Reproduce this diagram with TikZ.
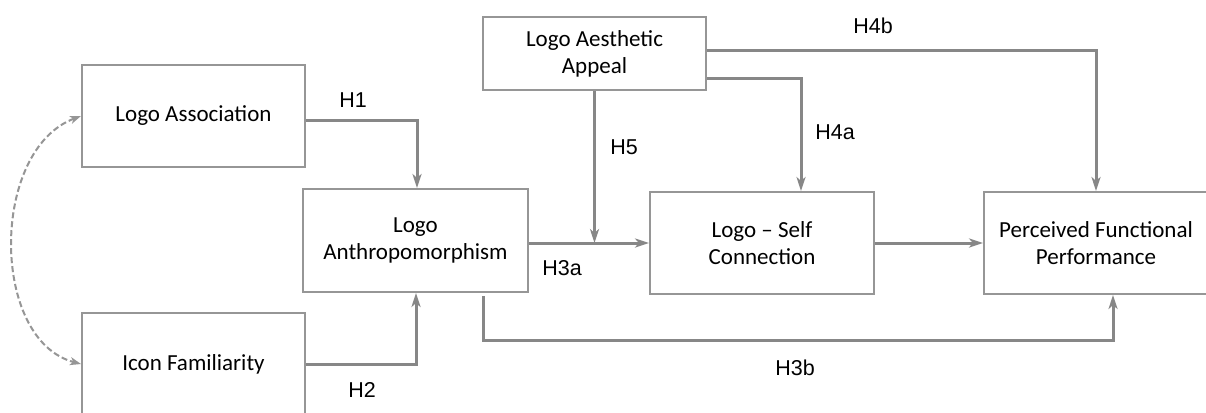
\documentclass[tikz,border=0pt]{standalone}
\usepackage{fontspec}
\newfontfamily\boxfont[Ligatures=TeX]{Carlito}
\newfontfamily\labfont{Liberation Sans}
\usetikzlibrary{arrows.meta,calc}
\definecolor{boxgray}{RGB}{150,150,150}
\definecolor{linegray}{RGB}{135,135,135}
\definecolor{dashgray}{RGB}{150,150,150}
\begin{document}
\begin{tikzpicture}[x=1pt,y=-1pt,
  varbox/.style={draw=boxgray,line width=2pt,rectangle,align=center,inner sep=0pt,
    font=\boxfont\fontsize{23}{27}\selectfont,text=black},
  arr/.style={draw=linegray,line width=3pt,-{Stealth[length=14pt,width=9pt,inset=4pt]}},
  dasharr/.style={draw=dashgray,line width=2pt,dash pattern=on 6pt off 3pt,
    {Stealth[length=11pt,width=8pt,inset=3pt]}-{Stealth[length=11pt,width=8pt,inset=3pt]}},
  hlab/.style={font=\labfont\fontsize{21.5}{24}\selectfont,text=black,inner sep=0pt}]
\useasboundingbox (0,0) rectangle (1206,412);
\clip (0,0) rectangle (1206,412);
\fill[white] (0,0) rectangle (1206,412);

\node[varbox,minimum width=223pt,minimum height=102pt] (assoc) at (193.5,116) {Logo Association};
\node[varbox,minimum width=223pt,minimum height=102pt] (icon) at (193.5,364) {Icon Familiarity};
\node[varbox,minimum width=225pt,minimum height=103pt] (anth) at (415.5,240.5) {Logo\\Anthropomorphism};
\node[varbox,minimum width=223pt,minimum height=73pt] (aes) at (594.5,53.5) {Logo Aesthetic\\Appeal};
\node[varbox,minimum width=224pt,minimum height=102pt] (self) at (762,243) {Logo – Self\\Connection};
\node[varbox,minimum width=224pt,minimum height=102pt] (pfp) at (1096,243) {Perceived Functional\\Performance};

% H1
\draw[arr] ($(assoc.east)+(0,4)$) -| ($(anth.north)+(1.5,0)$);
% H2
\draw[arr] (icon.east) -| ($(anth.south)+(0.5,0)$);
% H3a
\draw[arr] (anth.east |- self.west) -- (self.west);
% H5
\coordinate (h5end) at (aes.south |- self.west);
\draw[arr] (aes.south) -- (h5end);
% H4a
\draw[arr] ($(aes.east)+(0,24.5)$) -| ($(self.north)+(39,0)$);
% H4b
\draw[arr] ($(aes.east)+(0,-2.5)$) -| (pfp.north);
% self -> pfp
\draw[arr] (self.east) -- (pfp.west);
% H3b
\draw[arr] ($(anth.south)+(67.5,3)$) |- ($(pfp.south)+(17,45)$) -- ($(pfp.south)+(17,0)$);
% covariance
\draw[dasharr] (assoc.west) .. controls (-10,150) and (-10,340) .. (icon.west);

\node[hlab] (h1) at (353,100) {H1};
\node[hlab] (h2) at (362,390) {H2};
\node[hlab] (h5) at (624,147) {H5};
\node[hlab] (h3a) at (562,268) {H3a};
\node[hlab] (h4a) at (835,132) {H4a};
\node[hlab] (h4b) at (873,26) {H4b};
\node[hlab] (h3b) at (795,368) {H3b};
\end{tikzpicture}
\end{document}
